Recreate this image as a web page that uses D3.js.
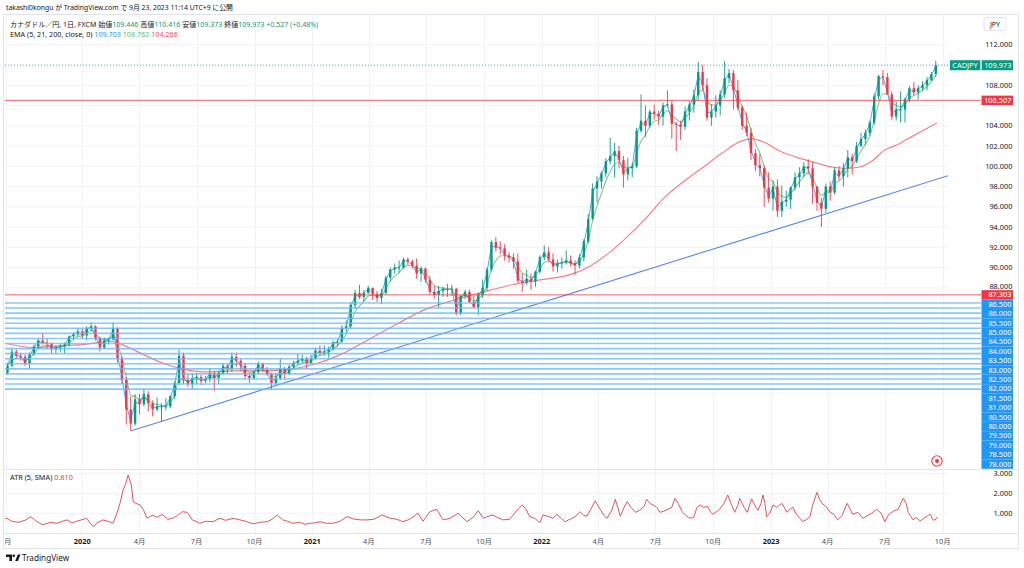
<!DOCTYPE html>
<html><head><meta charset="utf-8">
<script src="https://cdn.jsdelivr.net/npm/d3@7"></script>
<style>
body{margin:0;background:#fff}
svg{display:block}
text{font-family:"Noto Sans","Noto Sans CJK JP",sans-serif}
</style>
</head><body>
<svg id="c" width="1024" height="568"></svg>
<script>
// ---------- DATA ----------
const firstWeek = "2019-09-02"; // Monday of first weekly bar
const opens = [
79.6,80.3,81.7,81.3,81.2,80.5,81.4,82.2,82.8,82.6,82.5,81.9,82.1,82.2,82.4,83.2,83.4,83.7,
83.3,84.0,84.2,83.0,82.1,82.8,82.9,84.0,81.0,78.9,76.0,74.6,77.0,76.5,77.5,76.6,76.0,76.3,76.3,76.3,77.3,78.6,81.3,78.9,78.5,79.1,79.2,78.8,79.0,79.6,79.1,79.6,80.3,80.0,81.2,80.8,80.3,79.3,79.1,79.7,80.5,79.9,79.5,78.6,79.1,80.0,79.5,80.2,80.6,80.8,81.0,80.6,
81.0,81.8,81.6,81.7,81.9,82.6,82.7,84.0,84.2,86.3,87.5,87.1,87.5,88.0,87.4,87.0,87.5,89.0,89.8,90.0,90.0,90.8,90.6,90.2,89.4,89.9,88.8,87.6,87.3,87.7,87.9,87.8,87.9,85.5,87.2,87.6,86.6,86.1,87.3,88.0,89.8,92.5,92.0,91.9,91.2,91.0,90.6,88.7,88.5,88.9,88.6,89.6,
91.0,91.5,90.8,90.1,90.4,90.5,90.7,90.4,90.2,91.0,92.6,94.8,97.8,98.5,99.3,100.5,101.0,101.5,100.6,99.2,99.8,100.0,103.5,104.5,104.0,105.4,105.2,104.9,106.0,106.1,104.2,104.1,103.9,105.4,106.1,107.0,109.3,108.0,104.8,105.4,106.0,107.1,108.7,109.2,107.5,105.8,104.0,103.3,101.3,100.1,99.8,97.9,
96.8,98.0,95.6,96.5,96.7,97.9,98.9,99.3,100.0,99.8,98.0,96.4,95.8,98.0,97.4,99.6,99.0,99.8,100.9,100.5,102.0,102.7,103.3,104.3,106.9,108.9,108.8,107.1,104.9,105.6,105.6,106.6,107.7,107.3,107.7,108.0,108.5,109.1];
const highs = [
80.6,82.0,81.9,81.6,81.4,81.6,82.4,83.0,83.5,83.0,82.6,82.3,82.5,82.6,83.3,83.6,84.0,84.0,
84.2,84.6,84.3,83.2,83.1,83.1,84.6,84.1,81.3,79.2,77.3,77.5,77.5,78.0,77.8,76.9,77.2,76.6,77.1,77.4,78.8,81.9,81.6,79.5,79.5,79.6,79.4,79.3,80.1,79.8,79.8,80.6,80.5,81.6,81.6,81.0,80.6,79.6,79.8,80.7,80.6,80.2,79.6,79.6,81.0,80.2,80.4,80.8,81.5,81.4,81.2,81.4,
82.1,82.3,82.3,82.2,82.8,82.9,84.3,84.8,86.6,87.8,88.3,87.8,88.2,88.0,87.7,87.9,89.2,90.0,90.4,90.7,91.0,91.0,90.8,90.9,90.1,90.0,89.2,88.2,88.2,88.1,88.4,88.3,88.0,87.3,87.8,87.8,87.2,87.5,88.8,90.0,92.7,93.0,92.6,92.3,91.5,91.4,91.4,89.4,89.8,89.4,89.7,91.2,
92.2,92.0,91.4,90.8,91.0,91.7,91.2,90.7,91.3,92.8,95.3,98.3,99.0,99.5,100.8,102.8,102.3,102.0,101.0,100.8,100.3,103.8,107.1,106.0,105.6,106.1,105.5,106.3,107.5,106.5,104.4,104.5,105.9,106.4,107.6,110.3,110.0,108.7,106.1,107.0,107.5,110.4,109.6,109.5,108.5,106.0,105.3,103.8,101.7,101.2,100.1,99.4,
98.6,98.7,98.1,97.6,98.0,99.4,99.9,100.4,100.7,100.4,98.0,96.9,98.3,98.5,99.9,100.0,100.3,101.6,101.2,102.4,103.3,103.6,104.5,107.2,109.0,109.5,109.2,107.4,106.4,107.4,106.8,107.9,108.3,108.0,108.4,108.8,109.3,110.416];
const lows = [
79.4,80.2,81.0,80.8,80.3,80.0,81.3,82.0,82.4,82.0,81.5,81.5,81.7,81.5,82.2,82.9,83.2,83.0,
82.8,83.7,82.8,81.7,82.0,82.4,82.8,80.6,78.5,74.5,73.9,74.4,75.5,76.3,75.8,75.3,75.8,74.8,75.9,76.1,77.0,78.4,78.5,78.2,78.0,78.5,78.4,78.6,78.7,77.8,78.5,79.4,79.5,79.7,80.2,79.8,79.0,78.6,78.9,79.5,79.7,79.3,78.0,78.4,78.9,79.0,79.4,80.0,80.4,80.6,80.0,80.5,
80.9,81.3,81.3,81.1,81.8,82.2,82.6,83.6,84.0,85.9,86.9,86.6,87.4,86.8,86.6,86.4,87.3,88.6,89.4,89.5,89.9,90.3,89.9,88.9,88.6,88.5,87.3,86.9,86.0,87.1,87.1,87.2,85.3,85.3,86.9,86.5,86.0,85.3,87.0,87.7,89.6,91.6,91.3,90.7,90.5,89.9,88.5,87.6,88.3,87.8,88.1,89.4,
90.7,90.6,89.6,89.5,89.9,90.3,90.1,89.3,89.9,90.6,92.4,94.7,96.4,97.8,98.9,100.2,98.9,99.8,97.9,98.6,98.9,99.8,103.3,102.9,103.8,104.6,104.1,104.0,105.8,102.7,101.5,102.6,103.6,104.5,105.3,106.5,107.5,104.5,104.0,104.8,105.0,106.7,108.2,105.6,105.5,103.6,103.0,100.6,99.5,99.0,96.0,96.4,
95.6,95.0,95.0,96.0,95.8,97.6,97.9,98.9,99.3,96.3,95.6,94.0,95.4,96.6,97.2,98.6,98.0,98.9,99.2,100.3,101.9,102.1,103.0,104.1,106.6,108.0,107.1,104.6,104.5,104.3,104.3,106.3,107.0,106.6,107.4,107.5,108.4,108.8];
const closes = [
80.3,81.7,81.3,81.2,80.5,81.4,82.2,82.8,82.6,82.5,81.9,82.1,82.2,82.4,83.2,83.4,83.7,83.3,
84.0,84.2,83.0,82.1,82.8,82.9,84.0,81.0,78.9,76.0,74.6,77.0,76.5,77.5,76.6,76.0,76.3,76.3,76.3,77.3,78.6,81.3,78.9,78.5,79.1,79.2,78.8,79.0,79.6,79.1,79.6,80.3,80.0,81.2,80.8,80.3,79.3,79.1,79.7,80.5,79.9,79.5,78.6,79.1,80.0,79.5,80.2,80.6,80.8,81.0,80.6,81.0,
81.8,81.6,81.7,81.9,82.6,82.7,84.0,84.2,86.3,87.5,87.1,87.5,88.0,87.4,87.0,87.5,89.0,89.8,90.0,90.0,90.8,90.6,90.2,89.4,89.9,88.8,87.6,87.3,87.7,87.9,87.8,87.9,85.5,87.2,87.6,86.6,86.1,87.3,88.0,89.8,92.5,92.0,91.9,91.2,91.0,90.6,88.7,88.5,88.9,88.6,89.6,91.0,
91.5,90.8,90.1,90.4,90.5,90.7,90.4,90.2,91.0,92.6,94.8,97.8,98.5,99.3,100.5,101.0,101.5,100.6,99.2,99.8,100.0,103.5,104.5,104.0,105.4,105.2,104.9,106.0,106.1,104.2,104.1,103.9,105.4,106.1,107.0,109.3,108.0,104.8,105.4,106.0,107.1,108.7,109.2,107.5,105.8,104.0,103.3,101.3,100.1,99.8,97.9,96.8,
98.0,95.6,96.5,96.7,97.9,98.9,99.3,100.0,99.8,98.0,96.4,95.8,98.0,97.4,99.6,99.0,99.8,100.9,100.5,102.0,102.7,103.3,104.3,106.9,108.9,108.8,107.1,104.9,105.6,105.6,106.6,107.7,107.3,107.7,108.0,108.5,109.1,109.973];

const ema200Dates = ["2019-09-02","2019-10-15","2019-12-01","2020-01-01","2020-02-15","2020-03-15","2020-04-01","2020-05-15","2020-06-15","2020-07-15","2020-09-01","2020-10-15","2020-12-01","2021-01-01","2021-02-15","2021-04-01","2021-05-15","2021-07-01","2021-08-15","2021-10-01","2021-11-15","2022-01-01","2022-02-15","2022-03-15","2022-04-15","2022-05-15","2022-06-15","2022-07-15","2022-08-15","2022-09-15","2022-10-15","2022-11-15","2022-12-01","2022-12-20","2023-01-15","2023-02-15","2023-03-15","2023-04-10","2023-05-01","2023-05-20","2023-06-10","2023-07-01","2023-07-20","2023-08-15","2023-09-22"];
const ema200Values = [82.5,82.1,82.3,82.4,82.7,82.1,81.6,80.4,79.9,79.7,79.8,79.8,80.0,80.4,81.4,82.9,84.4,85.9,86.8,87.6,88.3,88.8,89.3,90.0,91.3,92.9,94.8,96.9,98.5,99.9,101.3,102.5,102.7,102.4,101.5,100.8,100.3,99.9,99.8,99.9,100.5,101.6,102.1,103.0,104.266];

// ATR(5, SMA): day offsets from 2020-01-01 and values
const atrDays = [-123,-120,-112,-102,-91,-82,-74,-63,-51,-40,-32,-24,-16,-7,7,17,25,33,41,49,55,60,65,69,73,76,78,81,85,92,97,103,108,112,119,124,128,136,144,152,159,167,175,181,187,197,208,219,228,240,251,260,272,283,294,302,310,319,327,335,346,354,362,370,378,388,399,410,421,431,442,453,464,477,490,501,510,521,534,542,553,564,574,585,598,612,622,630,638,652,660,669,680,692,700,706,712,720,728,733,741,749,755,762,768,779,785,792,798,803,809,816,824,830,835,843,848,852,856,862,867,873,880,887,894,898,903,908,914,919,925,932,938,943,948,954,960,967,973,978,983,989,995,1000,1003,1010,1014,1021,1027,1032,1038,1043,1046,1053,1058,1065,1070,1075,1080,1083,1086,1089,1094,1099,1105,1113,1118,1121,1126,1131,1135,1142,1146,1153,1158,1162,1169,1173,1177,1183,1190,1196,1202,1209,1217,1221,1226,1234,1242,1250,1256,1264,1271,1277,1282,1290,1298,1306,1311,1314,1322,1327,1333,1339,1346,1349,1354,1358,1360];
const atrValues = [0.72,0.75,0.6,0.55,0.65,0.83,0.62,0.42,0.55,0.5,0.6,0.67,0.52,0.62,0.75,0.33,0.55,0.67,0.6,0.5,1.0,1.5,2.17,2.5,2.92,2.6,2.42,1.58,1.5,1.42,1.2,0.75,0.85,0.9,0.8,0.9,0.92,0.7,0.75,0.9,1.08,1.05,0.67,0.6,0.5,0.6,0.58,0.75,0.65,0.75,0.67,0.6,0.47,0.55,0.58,0.7,0.92,0.67,0.6,0.5,0.55,0.45,0.5,0.52,0.58,0.5,0.5,0.6,0.83,0.72,0.67,0.67,0.7,0.92,0.75,0.7,0.58,0.7,1.0,0.6,1.08,1.2,0.67,0.75,1.0,0.58,0.8,1.13,0.75,0.92,0.8,0.67,0.7,1.17,1.42,1.2,0.83,0.75,0.53,0.92,0.85,0.75,0.95,0.75,0.58,0.75,0.85,1.08,0.9,0.85,1.2,1.62,1.2,0.9,0.75,1.2,1.7,1.3,0.85,1.3,1.58,1.3,1.05,1.15,1.35,1.7,1.5,1.42,1.3,1.05,1.1,1.2,1.3,1.75,1.5,1.1,0.9,0.75,0.8,1.3,1.42,1.3,1.35,1.05,0.95,1.1,1.2,1.5,1.92,1.5,1.05,1.4,1.75,1.3,1.05,1.72,1.4,1.15,1.5,1.92,1.5,0.83,1.0,1.42,1.3,1.5,1.25,1.05,1.2,1.3,1.0,0.75,0.58,0.7,0.83,1.4,2.05,1.7,1.5,1.35,1.05,0.95,0.67,0.9,1.5,1.25,0.95,1.05,0.75,0.9,1.0,1.2,1.0,0.58,0.9,1.1,1.2,1.75,1.5,1.05,0.67,0.8,0.62,0.75,0.9,0.95,0.65,0.7,0.81];

const trendDates = ["2020-03-18","2023-03-24"];
const trendPrices = [73.87, 95.2];
const gridLevels = [86.5,86.0,85.5,85.0,84.5,84.0,83.5,83.0,82.5,82.0,81.5,81.0,80.5,80.0,79.5,79.0,78.5,78.0];
const redLevels = [106.507, 87.303];
const lastClose = 109.973;
const priceTicks = [112,110,108,106,104,102,100,98,96,94,92,90,88,86,84,82,80,78];
const atrTicks = [3,2,1];
const timeTickDates = ["2019-09-01","2020-01-01","2020-04-01","2020-07-01","2020-10-01","2021-01-01","2021-04-01","2021-07-01","2021-10-01","2022-01-01","2022-04-01","2022-07-01","2022-10-01","2023-01-01","2023-04-01","2023-07-01","2023-10-01"];
const timeTickLabels = ["9月","2020","4月","7月","10月","2021","4月","7月","10月","2022","4月","7月","10月","2023","4月","7月","10月"];
const legendOHLC = ["109.446","110.416","109.373","109.973","+0.527 (+0.48%)"];
const legendEMA = ["109.703","108.762","104.266"];
const emaPeriods = [5,21];
const atrLast = "0.810";

// ---------- LAYOUT ----------
const PL = 5, PR = 948, PT = 14, PB = 469.5, AT = 469.5, AB = 533.5;
const UP = "#089981", DOWN = "#f23645", GRID = "#f0f3fa", BORDER = "#e0e3eb";
const parse = d3.utcParse("%Y-%m-%d");
const svg = d3.select("#c");

const x = d3.scaleUtc().domain([parse("2020-01-01"), parse("2023-10-01")]).range([82.3, 942.7]);
const y = d3.scaleLinear().domain([78, 112]).range([389.1, 44.7]);
const ya = d3.scaleLinear().domain([0, 3]).range([533.3, 473.3]);

const defs = svg.append("defs");
defs.append("clipPath").attr("id","cpMain").append("rect").attr("x",PL).attr("y",PT).attr("width",PR-PL).attr("height",PB-PT);
defs.append("clipPath").attr("id","cpAtr").append("rect").attr("x",PL).attr("y",AT).attr("width",PR-PL).attr("height",AB-AT);
defs.append("clipPath").attr("id","cpAxis").append("rect").attr("x",PL).attr("y",AB).attr("width",PR-PL+40).attr("height",15);

// grids
const gGrid = svg.append("g");
const tDates = timeTickDates.map(parse);
gGrid.selectAll("line.v").data(tDates.filter(d=>x(d)>=PL)).join("line")
  .attr("x1",d=>Math.round(x(d))+0.5).attr("x2",d=>Math.round(x(d))+0.5)
  .attr("y1",PT).attr("y2",AB).attr("stroke",GRID).attr("stroke-width",1);
gGrid.selectAll("line.h").data(priceTicks).join("line")
  .attr("x1",PL).attr("x2",PR).attr("y1",d=>y(d)).attr("y2",d=>y(d)).attr("stroke",GRID);
gGrid.selectAll("line.a").data(atrTicks).join("line")
  .attr("x1",PL).attr("x2",PR).attr("y1",d=>ya(d)).attr("y2",d=>ya(d)).attr("stroke",GRID);

// frame
svg.append("rect").attr("x",3.5).attr("y",14.5).attr("width",1015).attr("height",534).attr("fill","none").attr("stroke",BORDER);
svg.append("line").attr("x1",3.5).attr("x2",1018.5).attr("y1",PB).attr("y2",PB).attr("stroke",BORDER);
svg.append("line").attr("x1",3.5).attr("x2",1018.5).attr("y1",AB).attr("y2",AB).attr("stroke",BORDER);

// main pane
const gMain = svg.append("g").attr("clip-path","url(#cpMain)");

// horizontal drawn levels (blue) extend to label column
svg.append("g").selectAll("line").data(gridLevels).join("line")
  .attr("x1",PL).attr("x2",981).attr("y1",d=>y(d)).attr("y2",d=>y(d))
  .attr("stroke","#64b5f6").attr("stroke-width",1.6).attr("stroke-opacity",0.75);
svg.append("g").selectAll("line").data(redLevels).join("line")
  .attr("x1",PL).attr("x2",981).attr("y1",d=>y(d)).attr("y2",d=>y(d))
  .attr("stroke","#f23645").attr("stroke-width",1).attr("stroke-opacity",0.8);

// trend line extended right
const tp = trendDates.map((d,i)=>[x(parse(d)), y(trendPrices[i])]);
const slope = (tp[1][1]-tp[0][1])/(tp[1][0]-tp[0][0]);
gMain.append("line").attr("x1",tp[0][0]).attr("y1",tp[0][1]).attr("x2",PR).attr("y2",tp[0][1]+slope*(PR-tp[0][0]))
  .attr("stroke","#5b86f0").attr("stroke-width",1.1);

// EMA200
const e200 = ema200Dates.map((d,i)=>[x(parse(d)), y(ema200Values[i])]);
gMain.append("path").attr("d",d3.line().curve(d3.curveMonotoneX)(e200))
  .attr("fill","none").attr("stroke","#f7525f").attr("stroke-opacity",0.75).attr("stroke-width",1.2);

// weekly bars
const start = parse(firstWeek);
const bars = opens.map((o,i)=>({date:d3.utcDay.offset(start,7*i+2), o, h:highs[i], l:lows[i], c:closes[i]}));
function ema(vals, period){
  const a = 1 - Math.pow(1 - 2/(period+1), 5); // daily period -> weekly bars
  let e = vals[0];
  return vals.map(v => (e = e + a*(v-e)));
}
const e21 = ema(closes, emaPeriods[1]);
const e5 = ema(closes, emaPeriods[0]);
gMain.append("path").attr("d",d3.line().curve(d3.curveMonotoneX)(bars.map((b,i)=>[x(b.date), y(e21[i])])))
  .attr("fill","none").attr("stroke","#66bb6a").attr("stroke-opacity",0.8).attr("stroke-width",1.1);
gMain.append("path").attr("d",d3.line()(bars.map((b,i)=>[x(b.date), y(e5[i])])))
  .attr("fill","none").attr("stroke","#2196f3").attr("stroke-opacity",0.8).attr("stroke-width",1);

const gBars = gMain.append("g");
gBars.selectAll("line").data(bars).join("line")
  .attr("x1",d=>x(d.date)).attr("x2",d=>x(d.date))
  .attr("y1",d=>y(d.h)).attr("y2",d=>y(d.l))
  .attr("stroke",d=>d.c>=d.o?UP:DOWN).attr("stroke-width",0.9);
gBars.selectAll("rect").data(bars).join("rect")
  .attr("x",d=>x(d.date)-1.2).attr("width",2.4)
  .attr("y",d=>y(Math.max(d.o,d.c)))
  .attr("height",d=>Math.max(1,Math.abs(y(d.o)-y(d.c))))
  .attr("fill",d=>d.c>=d.o?UP:DOWN);

// last price dotted line
svg.append("line").attr("x1",PL).attr("x2",950).attr("y1",y(lastClose)).attr("y2",y(lastClose))
  .attr("stroke",UP).attr("stroke-dasharray","1,2").attr("stroke-opacity",0.7);

// ATR pane
const gAtr = svg.append("g").attr("clip-path","url(#cpAtr)");
const base = parse("2020-01-01");
gAtr.append("path").attr("d",d3.line()(atrDays.map((d,i)=>[x(d3.utcDay.offset(base,d)), ya(atrValues[i])])))
  .attr("fill","none").attr("stroke","#e0535a").attr("stroke-width",1);

// ---------- PRICE LABELS (stacked) ----------
const FS = 7.4, TXT = "#131722";
const LH = 9.4;
const labelBoxes = [];
labelBoxes.push({top:y(redLevels[0])-LH/2, val:redLevels[0], fill:"#f23645"});
let prevBottom = y(redLevels[1])-LH/2;
labelBoxes.push({top:prevBottom, val:redLevels[1], fill:"#f23645"});
prevBottom += LH;
gridLevels.forEach(v=>{
  const top = Math.max(y(v)-LH/2, prevBottom);
  labelBoxes.push({top, val:v, fill:"#2196f3"});
  prevBottom = top + LH;
});
const ly = y(lastClose);
labelBoxes.push({top:ly-5, val:lastClose, fill:UP, h:10});

// ---------- AXES ----------
const hidden = v => labelBoxes.some(b => y(v) > b.top - 1 && y(v) < b.top + (b.h||LH) + 1);
const gAx = svg.append("g").attr("font-size",FS).attr("fill",TXT).attr("text-anchor","end");
gAx.selectAll("text.p").data(priceTicks.filter(v=>!hidden(v))).join("text")
  .attr("x",1012.5).attr("y",d=>y(d)+(d===88?1.2:2.7)).text(d=>d3.format(".3f")(d));
gAx.selectAll("text.a").data(atrTicks).join("text")
  .attr("x",1012.5).attr("y",d=>ya(d)+2.7).text(d=>d3.format(".3f")(d));

// time axis
const gT = svg.append("g").attr("clip-path","url(#cpAxis)").attr("font-size",7.4).attr("text-anchor","middle");
gT.selectAll("text").data(tDates).join("text")
  .attr("x",d=>x(d)).attr("y",544)
  .attr("font-weight",(d,i)=>/^\d{4}$/.test(timeTickLabels[i])?"700":"400")
  .attr("fill",(d,i)=>/^\d{4}$/.test(timeTickLabels[i])?TXT:"#50535e")
  .text((d,i)=>timeTickLabels[i]);

// draw labels
labelBoxes.forEach(b=>{
  const h = b.h||LH;
  svg.append("rect").attr("x",981.5).attr("y",b.top).attr("width",31.5).attr("height",h).attr("fill",b.fill);
  svg.append("text").attr("x",1011.5).attr("y",b.top+h/2+2.6).attr("font-size",FS).attr("fill","#fff")
    .attr("text-anchor","end").text(d3.format(".3f")(b.val));
});
// symbol tag
svg.append("rect").attr("x",950).attr("y",ly-5).attr("width",30.5).attr("height",10).attr("fill",UP);
svg.append("text").attr("x",965).attr("y",ly+2.7).attr("font-size",FS).attr("fill","#fff").attr("text-anchor","middle").text("CADJPY");
svg.append("rect").attr("x",980.5).attr("y",ly-5).attr("width",1).attr("height",10).attr("fill","#fff").attr("opacity",0.6);

// JPY box
svg.append("rect").attr("x",984).attr("y",17.5).attr("width",22).attr("height",13).attr("rx",2)
  .attr("fill","#fff").attr("stroke",BORDER);
svg.append("text").attr("x",995).attr("y",26.8).attr("font-size",7).attr("text-anchor","middle").attr("fill",TXT).text("JPY");

// ---------- LEGENDS (font size fitted to the reference widths) ----------
function fit(sel, target){
  const w = sel.node().getComputedTextLength();
  const fs = +sel.attr("font-size");
  sel.attr("font-size", (fs*target/w).toFixed(2));
}
const hdr = svg.append("text").attr("x",6).attr("y",9.6).attr("font-size",8).attr("fill",TXT)
  .text("takashi0kongu が TradingView.com で 9月 23, 2023 11:14 UTC+9 に公開");
fit(hdr, 227);

const l1 = svg.append("text").attr("x",10).attr("y",27).attr("font-size",8).attr("fill",TXT);
l1.append("tspan").text("カナダドル／円, 1日, FXCM  始値");
l1.append("tspan").attr("fill",UP).text(legendOHLC[0]);
l1.append("tspan").text(" 高値");
l1.append("tspan").attr("fill",UP).text(legendOHLC[1]);
l1.append("tspan").text(" 安値");
l1.append("tspan").attr("fill",UP).text(legendOHLC[2]);
l1.append("tspan").text(" 終値");
l1.append("tspan").attr("fill",UP).text(legendOHLC[3]);
l1.append("tspan").attr("fill",UP).text(" " + legendOHLC[4]);
fit(l1, 309);

const l2 = svg.append("text").attr("x",10).attr("y",36.5).attr("font-size",8).attr("fill",TXT);
l2.append("tspan").text("EMA (5, 21, 200, close, 0)  ");
l2.append("tspan").attr("fill","#2196f3").text(legendEMA[0]);
l2.append("tspan").attr("fill","#66bb6a").text("  " + legendEMA[1]);
l2.append("tspan").attr("fill","#f7525f").text("  " + legendEMA[2]);
fit(l2, 168);

const l3 = svg.append("text").attr("x",10).attr("y",480).attr("font-size",8).attr("fill",TXT);
l3.append("tspan").text("ATR (5, SMA)  ");
l3.append("tspan").attr("fill","#f23645").text(atrLast);
fit(l3, 63);

// alert/target icon
svg.append("circle").attr("cx",937).attr("cy",461).attr("r",5.2).attr("fill","#fff").attr("stroke","#f23645").attr("stroke-width",1.1);
svg.append("circle").attr("cx",937).attr("cy",461).attr("r",2).attr("fill","#f23645");

// TradingView logo
const gl = svg.append("g").attr("fill",TXT);
gl.append("path").attr("d","M6,554.5h6v6.5h-2.6v-3.9h-3.4z");
gl.append("circle").attr("cx",13.8).attr("cy",555.8).attr("r",1.3);
gl.append("path").attr("d","M15.2,561l2.6,-6.5h2.7l-2.6,6.5z");
svg.append("text").attr("x",22).attr("y",560.8).attr("font-size",8.2).attr("fill",TXT).text("TradingView");
</script>
</body></html>
